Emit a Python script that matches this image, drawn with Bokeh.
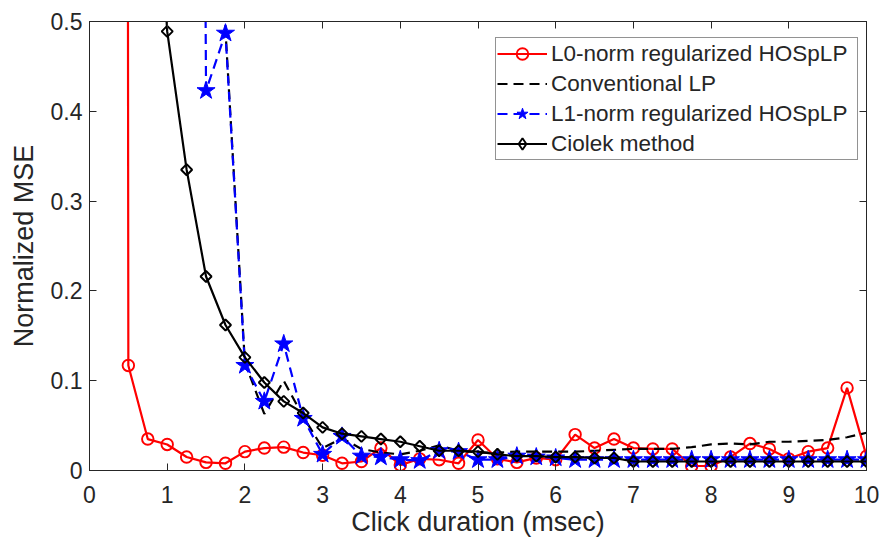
import math
from bokeh.plotting import figure
from bokeh.models import (Legend, LegendItem, LinearAxis, FixedTicker, Range1d,
                          ColumnDataSource)
from bokeh.embed import file_html
from bokeh.resources import INLINE

# ---------------- data ----------------
duration_ms = [0.25, 0.5, 0.75, 1.0, 1.25, 1.5, 1.75, 2.0, 2.25, 2.5, 2.75, 3.0,
               3.25, 3.5, 3.75, 4.0, 4.25, 4.5, 4.75, 5.0, 5.25, 5.5, 5.75, 6.0,
               6.25, 6.5, 6.75, 7.0, 7.25, 7.5, 7.75, 8.0, 8.25, 8.5, 8.75, 9.0,
               9.25, 9.5, 9.75, 10.0]

l0_hosplp = [20.0, 0.117, 0.035, 0.029, 0.015, 0.009, 0.008, 0.021, 0.025, 0.026,
             0.020, 0.017, 0.008, 0.010, 0.025, 0.006, 0.013, 0.012, 0.008, 0.034,
             0.013, 0.009, 0.014, 0.012, 0.040, 0.025, 0.035, 0.025, 0.024, 0.024,
             0.005, 0.005, 0.015, 0.030, 0.024, 0.013, 0.021, 0.025, 0.092, 0.016]

conventional_lp = [6.0, 6.0, 6.0, 6.0, 6.0, 6.0, 0.49, 0.120, 0.063, 0.100,
                   0.060, 0.025, 0.036, 0.024, 0.020, 0.018, 0.022, 0.028, 0.022, 0.020,
                   0.020, 0.021, 0.021, 0.021, 0.021, 0.022, 0.023, 0.024, 0.024, 0.024,
                   0.026, 0.029, 0.030, 0.029, 0.032, 0.032, 0.033, 0.034, 0.037, 0.042]

l1_hosplp = [3.0, 3.0, 3.0, 3.0, 4.0, 0.423, 0.487, 0.117, 0.077, 0.141,
             0.058, 0.018, 0.038, 0.016, 0.015, 0.012, 0.011, 0.022, 0.021, 0.012,
             0.012, 0.016, 0.015, 0.014, 0.012, 0.012, 0.012, 0.012, 0.012, 0.012,
             0.012, 0.012, 0.012, 0.012, 0.012, 0.012, 0.012, 0.012, 0.012, 0.012]

ciolek = [2.5, 1.6, 0.85, 0.489, 0.335, 0.216, 0.162, 0.126, 0.098, 0.077,
          0.064, 0.048, 0.041, 0.038, 0.035, 0.032, 0.027, 0.022, 0.022, 0.021,
          0.018, 0.016, 0.016, 0.015, 0.015, 0.014, 0.014, 0.010, 0.010, 0.010,
          0.010, 0.010, 0.010, 0.010, 0.010, 0.010, 0.010, 0.010, 0.010, 0.010]

series_labels = ["L0-norm regularized HOSpLP", "Conventional LP",
                 "L1-norm regularized HOSpLP", "Ciolek method"]

x_ticks = [0, 1, 2, 3, 4, 5, 6, 7, 8, 9, 10]
y_ticks = [0, 0.1, 0.2, 0.3, 0.4, 0.5]
y_tick_labels = ["0", "0.1", "0.2", "0.3", "0.4", "0.5"]

# ---------------- style ----------------
FONT = "Liberation Sans"
AX = "#262626"

src = ColumnDataSource(dict(x=duration_ms, l0=l0_hosplp, conv=conventional_lp,
                            l1=l1_hosplp, cio=ciolek))
# one off-chart point (first Ciolek sample, above the y range) used only to
# give the legend a diamond glyph
legend_src = ColumnDataSource(dict(x=duration_ms[:1], cio=ciolek[:1]))

p = figure(width=885, height=548, output_backend="svg", toolbar_location=None,
           x_range=Range1d(0, 10), y_range=Range1d(0, 0.5),
           min_border_left=89, min_border_right=19, min_border_top=21,
           min_border_bottom=78)
p.background_fill_color = "white"
p.border_fill_color = "white"
p.grid.visible = False
p.outline_line_color = AX
p.outline_line_width = 1

for ax in (p.xaxis[0], p.yaxis[0]):
    ax.axis_line_color = AX
    ax.major_tick_line_color = AX
    ax.major_tick_in = 7
    ax.major_tick_out = 0
    ax.minor_tick_line_color = None
    ax.major_label_text_font = FONT
    ax.major_label_text_font_size = "23px"
    ax.major_label_text_color = AX
    ax.axis_label_text_font = FONT
    ax.axis_label_text_font_size = "27px"
    ax.axis_label_text_font_style = "normal"
    ax.axis_label_text_color = AX

p.xaxis[0].ticker = FixedTicker(ticks=x_ticks)
p.yaxis[0].ticker = FixedTicker(ticks=y_ticks)
p.yaxis[0].major_label_overrides = {t: l for t, l in zip(y_ticks, y_tick_labels)}
p.xaxis[0].axis_label = "Click duration (msec)"
p.yaxis[0].axis_label = "Normalized MSE"
p.xaxis[0].major_label_standoff = 15
p.yaxis[0].major_label_standoff = 7
p.xaxis[0].axis_label_standoff = 1
p.yaxis[0].axis_label_standoff = 9

# box ticks on the top and right sides (no labels)
for loc, ticks in (("above", x_ticks), ("right", y_ticks)):
    a = LinearAxis(ticker=FixedTicker(ticks=ticks), major_label_text_font_size="8px",
                   major_label_text_color=None,
                   major_tick_in=7, major_tick_out=0, minor_tick_line_color=None,
                   axis_line_color=AX, major_tick_line_color=AX, major_label_standoff=0)
    p.add_layout(a, loc)

# ---------------- series ----------------
LW = 2.2
DASH = "10 6"
r_l0 = p.line("x", "l0", source=src, line_color="#FF0000", line_width=LW)
s_l0 = p.scatter("x", "l0", source=src, marker="circle", size=11.5,
                 line_color="#FF0000", line_width=1.9, fill_alpha=0)

r_conv = p.line("x", "conv", source=src, line_color="black", line_width=LW,
                line_dash=DASH)

r_l1 = p.line("x", "l1", source=src, line_color="#0000FF", line_width=LW,
              line_dash=DASH)
s_l1 = p.scatter("x", "l1", source=src, marker="star", size=19,
                 line_color="#0000FF", fill_color="#0000FF")

r_cio = p.line("x", "cio", source=src, line_color="black", line_width=LW)
s_cio = p.scatter("x", "cio", source=src, marker="square", size=7.8,
                  angle=math.pi / 4, line_color="black", line_width=2,
                  fill_alpha=0)
s_cio_leg = p.scatter("x", "cio", source=legend_src, marker="diamond", size=12,
                      line_color="black", line_width=1.9, fill_alpha=0)

legend = Legend(items=[
    LegendItem(label=series_labels[0], renderers=[r_l0, s_l0]),
    LegendItem(label=series_labels[1], renderers=[r_conv]),
    LegendItem(label=series_labels[2], renderers=[r_l1, s_l1]),
    LegendItem(label=series_labels[3], renderers=[r_cio, s_cio_leg]),
], location=(406, 310))
legend.margin = 0
legend.padding = 1
legend.spacing = 1
legend.glyph_width = 50
legend.glyph_height = 29
legend.label_height = 29
legend.label_width = 305
legend.label_standoff = 4
legend.label_text_font = FONT
legend.label_text_font_size = "22.5px"
legend.label_text_color = AX
legend.border_line_color = AX
legend.border_line_width = 1
legend.background_fill_color = "white"
legend.background_fill_alpha = 1
p.add_layout(legend)

open("out.html", "w").write(file_html(p, INLINE))
